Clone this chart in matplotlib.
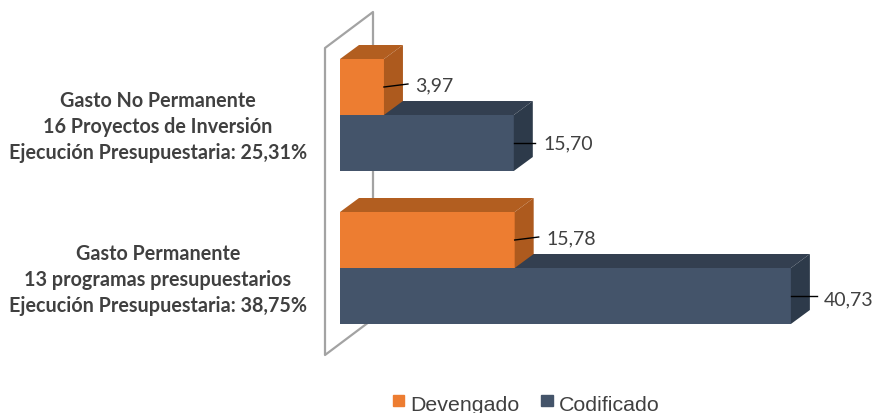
import matplotlib
matplotlib.use('Agg')
import matplotlib.pyplot as plt
from matplotlib.patches import Polygon, Patch
from matplotlib.legend_handler import HandlerPatch

# data, bottom group first
groups = ['Gasto Permanente\n13 programas presupuestarios\nEjecución Presupuestaria: 38,75%',
          'Gasto No Permanente\n16 Proyectos de Inversión\nEjecución Presupuestaria: 25,31%']
devengado = [15.78, 3.97]
codificado = [40.73, 15.70]
series_names = ['Devengado', 'Codificado']

W, H = 874, 414
X0 = 340       # pixel of value 0
PX_UNIT = 11.07  # pixels per value unit
Y0 = 269       # pixel of first group
PX_GROUP = 153
BAR_H = 56 / PX_GROUP
DX = 19 / PX_UNIT
DY = 14 / PX_GROUP

orange = ['#ED7D31', '#AD5A1E', '#B25E20']
navy = ['#44546A', '#2D3A4A', '#333F50']
txt = '#404040'

plt.rcParams['font.family'] = ['Lato', 'DejaVu Sans']

fig = plt.figure(figsize=(W / 100, H / 100), dpi=100)
ax = fig.add_axes([0, 0, 1, 1])
ax.set_xlim(-X0 / PX_UNIT, (W - X0) / PX_UNIT)
ax.set_ylim((Y0 - H) / PX_GROUP, Y0 / PX_GROUP)
ax.axis('off')


def px(x, y):
    return (x - X0) / PX_UNIT, (Y0 - y) / PX_GROUP


# the 3d wall of the category axis
wall = [px(373, 320), px(373, 13), px(325, 49), px(325, 356), px(373, 320)]
ax.plot([p[0] for p in wall], [p[1] for p in wall], color='#A3A3A3', lw=1.6, zorder=1)


def box(v, y, cols, z):
    # y = lower edge of the front face
    ax.barh(y, v, height=BAR_H, align='edge', color=cols[0], zorder=z)
    top = y + BAR_H
    ax.add_patch(Polygon([(0, top), (v, top), (v + DX, top + DY), (DX, top + DY)],
                         facecolor=cols[2], edgecolor='none', zorder=z))
    ax.add_patch(Polygon([(v, y), (v + DX, y + DY), (v + DX, top + DY), (v, top)],
                         facecolor=cols[1], edgecolor='none', zorder=z))


def leader(v, y, dx1, dy1, dx2, dy2):
    x0 = v
    ax.plot([x0, x0 + dx1 / PX_UNIT], [y, y + dy1 / PX_GROUP], color='black', lw=1, zorder=10)
    ax.text(x0 + dx2 / PX_UNIT, y + dy2 / PX_GROUP, ('%.2f' % v).replace('.', ','),
            fontsize=14, color=txt, va='center', ha='left', zorder=11)


z = 2
for i in [1, 0]:
    box(codificado[i], i - BAR_H, navy, z)
    box(devengado[i], i, orange, z + 1)
    z += 2

leader(devengado[1], 1 + BAR_H / 2, 24, 3, 31, 2)
leader(codificado[1], 1 - BAR_H / 2, 21, 0, 30, 0)
leader(devengado[0], BAR_H / 2, 24, 3, 32, 2)
leader(codificado[0], -BAR_H / 2, 26, 0, 33, -3)

for i, g in enumerate(groups):
    ax.text(*px(158, Y0 - i * PX_GROUP + 11), g, ha='center', va='center',
            fontsize=14.2, fontweight='bold', color=txt, linespacing=1.38)

handles = [Patch(color=orange[0]), Patch(color=navy[0])]
ax.legend(handles, series_names, loc='center', bbox_to_anchor=(526 / W, 1 - 405.5 / H), ncol=2,
          frameon=False, handlelength=0.55, handleheight=0.77, handletextpad=0.25,
          columnspacing=1.05, borderpad=0, labelcolor=txt,
          handler_map={Patch: HandlerPatch(ypad=0.22)},
          prop={'family': 'Liberation Sans', 'size': 15.4})

fig.savefig('out.png', dpi=100)
